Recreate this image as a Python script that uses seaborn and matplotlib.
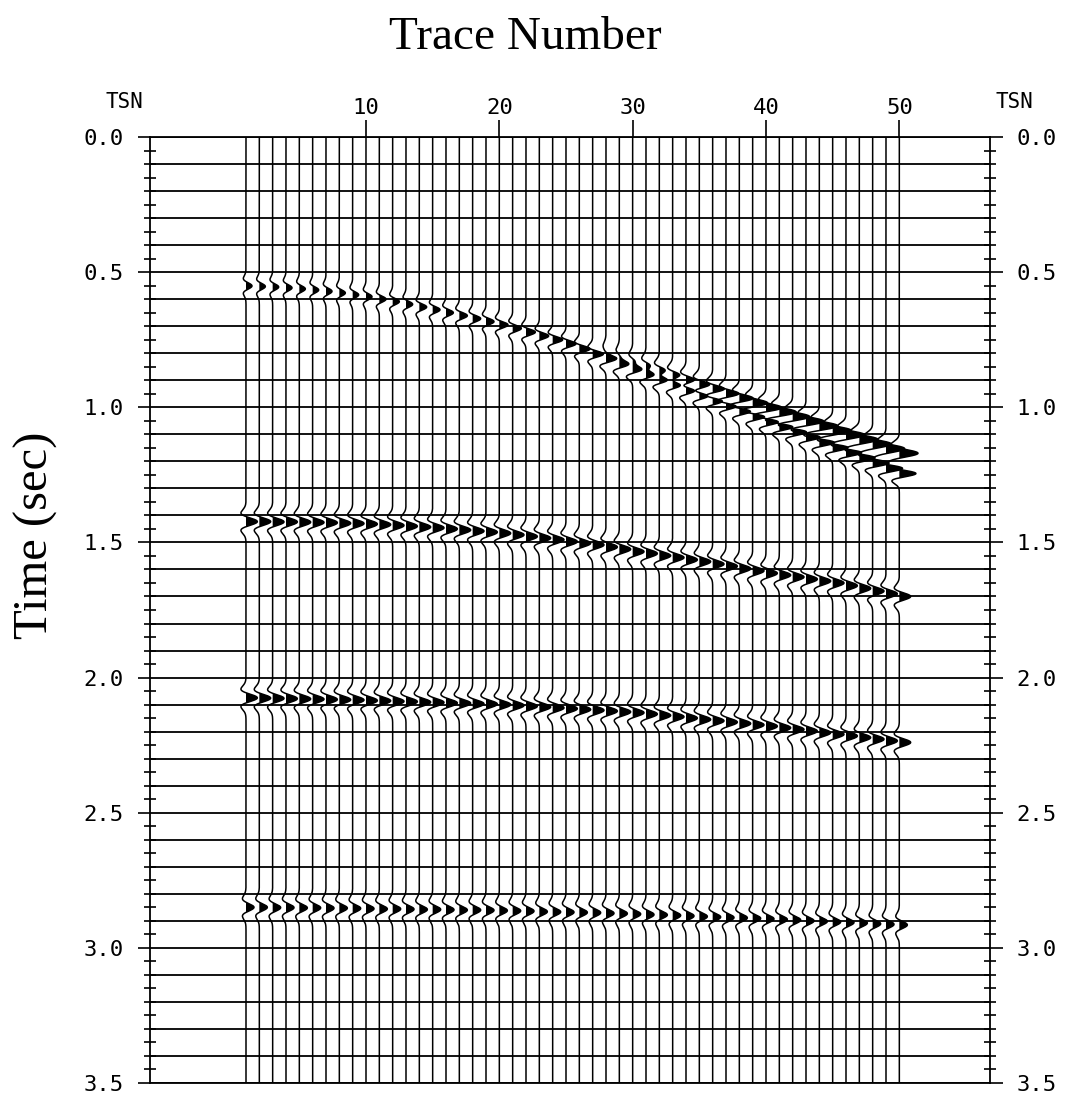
"""
Sección sísmica sintética (wiggle + área variable) con eventos reflejados.
"""
import matplotlib

matplotlib.use("Agg")
import matplotlib.pyplot as plt
import numpy as np
import pandas as pd
import seaborn as sns
from matplotlib.ticker import FixedLocator, MultipleLocator, FormatStrFormatter

# --- Datos ------------------------------------------------------------------
TRAZAS = list(range(1, 51))

# tiempos de llegada (s) por traza
T_EVENTO1 = [0.551, 0.553, 0.555, 0.558, 0.562, 0.566, 0.571, 0.577, 0.584, 0.591,
             0.600, 0.609, 0.619, 0.629, 0.639, 0.650, 0.661, 0.672, 0.683, 0.695,
             0.708, 0.722, 0.736, 0.750, 0.765, 0.784, 0.803, 0.822, 0.842, 0.861,
             0.880, 0.899, 0.918, 0.938, 0.957, 0.976, 0.995, 1.014, 1.034, 1.053,
             1.072, 1.091, 1.110, 1.130, 1.149, 1.168, 1.187, 1.206, 1.226, 1.245]
A_EVENTO1 = [0.45, 0.45, 0.45, 0.45, 0.45, 0.45, 0.45, 0.45, 0.45, 0.45,
             0.50, 0.50, 0.50, 0.55, 0.55, 0.55, 0.60, 0.60, 0.60, 0.65,
             0.65, 0.70, 0.70, 0.75, 0.75, 0.80, 0.80, 0.85, 0.85, 0.90,
             0.90, 0.95, 0.95, 1.00, 1.00, 1.05, 1.05, 1.10, 1.10, 1.10,
             1.15, 1.15, 1.15, 1.20, 1.20, 1.20, 1.20, 1.25, 1.25, 1.25]

# segunda llegada (lóbulos grandes) a partir de la traza 28
TRAZAS_1B = list(range(28, 51))
T_EVENTO1B = [0.800, 0.817, 0.834, 0.850, 0.867, 0.884, 0.901, 0.918, 0.934, 0.951,
              0.968, 0.985, 1.002, 1.018, 1.035, 1.052, 1.069, 1.086, 1.102, 1.119,
              1.136, 1.153, 1.170]
A_EVENTO1B = [0.40, 0.50, 0.60, 0.70, 0.80, 0.85, 0.90, 1.00, 1.05, 1.10,
              1.15, 1.20, 1.25, 1.30, 1.30, 1.35, 1.40, 1.40, 1.40, 1.40,
              1.40, 1.40, 1.40]

T_EVENTO2 = [1.423, 1.423, 1.424, 1.424, 1.425, 1.426, 1.427, 1.429, 1.430, 1.432,
             1.434, 1.437, 1.440, 1.443, 1.446, 1.450, 1.454, 1.458, 1.462, 1.466,
             1.472, 1.478, 1.484, 1.490, 1.497, 1.503, 1.509, 1.517, 1.525, 1.534,
             1.541, 1.549, 1.556, 1.564, 1.571, 1.580, 1.588, 1.597, 1.605, 1.614,
             1.621, 1.628, 1.636, 1.643, 1.650, 1.660, 1.670, 1.680, 1.690, 1.700]
A_EVENTO2 = 0.85

T_EVENTO3 = [2.075, 2.076, 2.077, 2.078, 2.079, 2.080, 2.081, 2.082, 2.083, 2.085,
             2.086, 2.088, 2.089, 2.091, 2.092, 2.094, 2.095, 2.097, 2.098, 2.100,
             2.103, 2.106, 2.109, 2.112, 2.115, 2.118, 2.121, 2.124, 2.127, 2.130,
             2.135, 2.140, 2.145, 2.150, 2.155, 2.160, 2.165, 2.170, 2.175, 2.180,
             2.186, 2.192, 2.198, 2.204, 2.210, 2.216, 2.222, 2.228, 2.234, 2.240]
A_EVENTO3 = 0.85

T_EVENTO4 = [2.850, 2.850, 2.851, 2.851, 2.852, 2.852, 2.853, 2.853, 2.854, 2.855,
             2.856, 2.856, 2.857, 2.858, 2.858, 2.859, 2.860, 2.860, 2.861, 2.862,
             2.863, 2.864, 2.866, 2.867, 2.868, 2.869, 2.870, 2.872, 2.873, 2.875,
             2.877, 2.878, 2.880, 2.882, 2.884, 2.886, 2.888, 2.889, 2.891, 2.893,
             2.895, 2.897, 2.900, 2.902, 2.904, 2.906, 2.908, 2.911, 2.913, 2.915]
A_EVENTO4 = 0.6

TICKS_TRAZA = [10, 20, 30, 40, 50]
T_MAX = 3.5

# --- Estilo -------------------------------------------------------------------
sns.set_theme(style="white")
plt.rcParams["font.family"] = ["DejaVu Sans Mono", "DejaVu Sans"]
plt.rcParams.update({"text.color": "black", "xtick.color": "black",
                     "ytick.color": "black", "axes.labelcolor": "black"})
FUENTE_SERIF = ["Liberation Serif", "DejaVu Serif"]


def ricker(t, f):
    a = (np.pi * f * t) ** 2
    return (1 - 2 * a) * np.exp(-a)


tiempo = np.arange(0, T_MAX + 0.001, 0.001)
filas = []
senales = {}
for i, tr in enumerate(TRAZAS):
    s = A_EVENTO1[i] * ricker(tiempo - T_EVENTO1[i], 14)
    s += A_EVENTO2 * ricker(tiempo - T_EVENTO2[i], 12)
    s += A_EVENTO3 * ricker(tiempo - T_EVENTO3[i], 12)
    s += A_EVENTO4 * ricker(tiempo - T_EVENTO4[i], 12)
    if tr in TRAZAS_1B:
        j = TRAZAS_1B.index(tr)
        s += A_EVENTO1B[j] * ricker(tiempo - T_EVENTO1B[j], 12)
    senales[tr] = s
    filas.append(pd.DataFrame({"traza": tr, "tiempo": tiempo, "x": tr + s}))
df = pd.concat(filas, ignore_index=True)

fig = plt.figure(figsize=(10.66, 10.95), dpi=100)
ax = fig.add_axes([150 / 1066, 1 - 1083 / 1095, 840 / 1066, (1083 - 137) / 1095])

# líneas de tiempo cada 0.1 s
ax.hlines(np.arange(0, T_MAX + 0.01, 0.1), -10, 60, color="black", lw=1.3, zorder=1)

sns.lineplot(data=df, x="x", y="tiempo", units="traza", estimator=None, sort=False,
             color="black", lw=1.1, ax=ax, legend=False, zorder=3)
for tr in TRAZAS:
    s = senales[tr]
    ax.fill_betweenx(tiempo, tr, tr + s, where=s > 0, color="black", lw=0, zorder=3)

ax.set_xlim(-6.2, 56.8)
ax.set_ylim(T_MAX, 0)
ax.set_xlabel("")
ax.set_ylabel("")

for sp in ax.spines.values():
    sp.set_color("black")
    sp.set_linewidth(1.3)

# ejes
ax.xaxis.tick_top()
ax.xaxis.set_major_locator(FixedLocator(TICKS_TRAZA))
ax.tick_params(axis="x", which="major", top=True, bottom=False, direction="out",
               length=12, width=1.2, labelsize=16, pad=2)
ax.yaxis.set_major_locator(MultipleLocator(0.5))
ax.yaxis.set_minor_locator(MultipleLocator(0.05))
ax.yaxis.set_major_formatter(FormatStrFormatter("%.1f"))
ax.tick_params(axis="y", which="major", left=True, right=True, labelleft=True,
               labelright=True, direction="out", length=9, width=1.2,
               labelsize=16, pad=10)
ax.tick_params(axis="y", which="minor", left=True, right=True, direction="inout",
               length=9, width=1.2)

fig.text(0.117, 1 - 102 / 1095, "TSN", ha="center", va="center", fontsize=15)
fig.text(0.952, 1 - 102 / 1095, "TSN", ha="center", va="center", fontsize=15)
fig.text(0.493, 1 - 38 / 1095, "Trace Number", ha="center", va="center",
         fontsize=34, family=FUENTE_SERIF)
fig.text(0.034, 1 - 535 / 1095, "Time (sec)", ha="center", va="center",
         rotation=90, fontsize=35, family=FUENTE_SERIF)

fig.savefig("out.png", dpi=100, facecolor="white")
